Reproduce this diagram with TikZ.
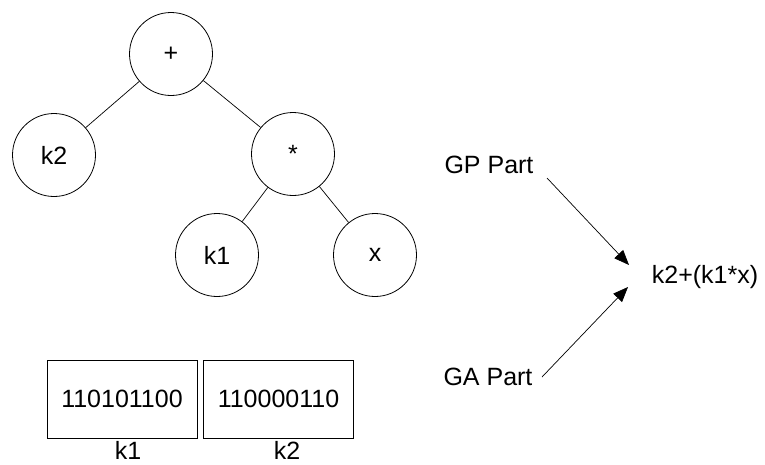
\documentclass[tikz,border=0pt]{standalone}
\usepackage{fontspec}
\setmainfont{Liberation Sans}
\usetikzlibrary{arrows.meta}
\begin{document}
\begin{tikzpicture}[x=1pt,y=-1pt,
  every node/.style={font=\fontsize{25}{30}\selectfont},
  treenode/.style={circle,draw,line width=0.8pt,minimum size=83pt,inner sep=0pt},
  genebox/.style={rectangle,draw,line width=0.8pt,minimum width=150pt,minimum height=78pt,inner sep=0pt},
  edge/.style={line width=0.7pt},
  feed/.style={line width=0.7pt,-{Triangle[length=15pt,width=12pt]}}]
\useasboundingbox (0,0) rectangle (765,464);

% expression tree
\node[treenode] (plus) at (171,54) {+};
\node[treenode] (k2) at (54,155) {k2};
\node[treenode] (star) at (293,154) {*};
\node[treenode] (k1) at (217,255) {k1};
\node[treenode] (x) at (375,255) {x};
\draw[edge] (plus) -- (k2);
\draw[edge] (plus) -- (star);
\draw[edge] (star) -- (k1);
\draw[edge] (star) -- (x);

% chromosome constants
\node[genebox] (bits1) at (122,399) {110101100};
\node[genebox] (bits2) at (278.5,399) {110000110};
\node[inner sep=0pt] (lab1) at (128,450) {k1};
\node[inner sep=0pt] (lab2) at (287,450) {k2};

% combination of both parts
\node (gp) at (489,165) {GP Part};
\node (ga) at (488,377) {GA Part};
\node (res) at (705,277) {k2+(k1*x)};
\coordinate (gpTail) at (547,178);
\coordinate (gpTip) at (629,265);
\coordinate (gaTail) at (542,377);
\coordinate (gaTip) at (628,287);
\draw[feed] (gpTail) -- (gpTip);
\draw[feed] (gaTail) -- (gaTip);
\end{tikzpicture}
\end{document}
